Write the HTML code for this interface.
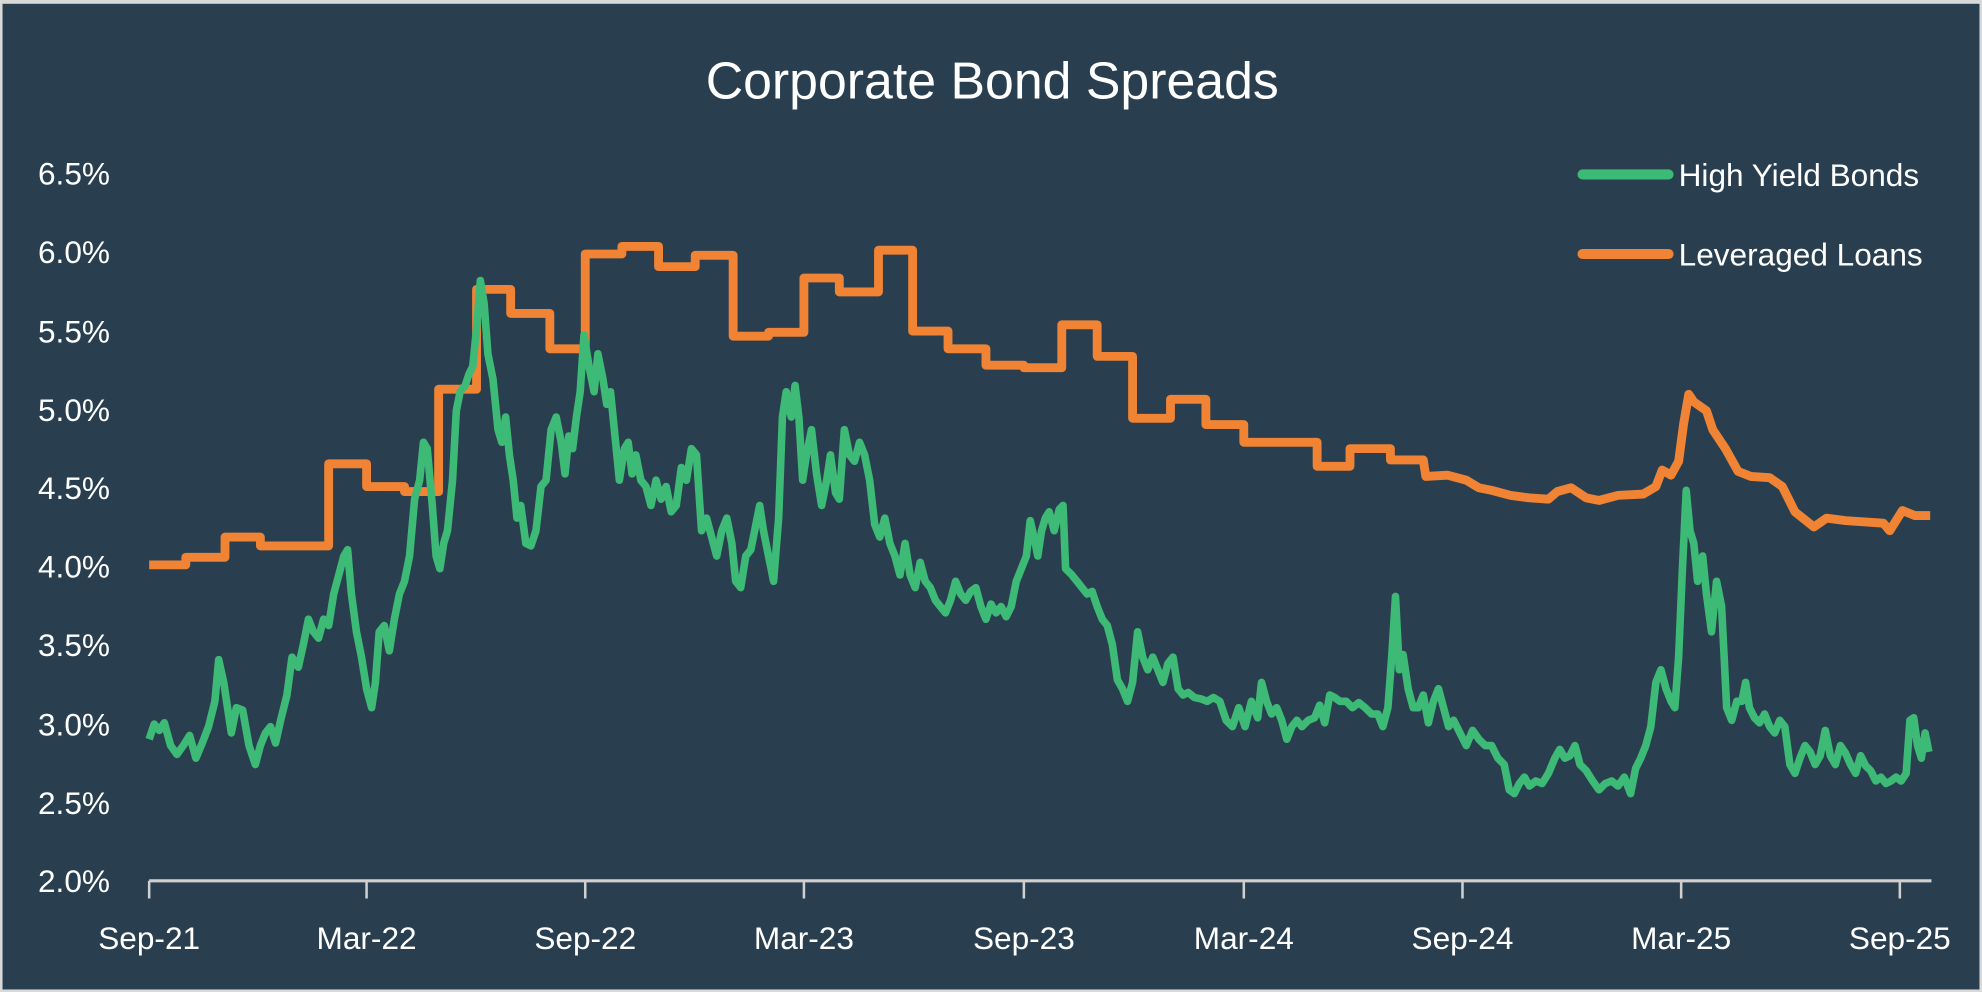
<!DOCTYPE html>
<html><head><style>
html,body{margin:0;padding:0;background:#d9d9d9;}
svg{display:block;}
text{font-family:"Liberation Sans",sans-serif;fill:#fff;}
</style></head><body>
<svg width="1982" height="992" viewBox="0 0 1568 785" preserveAspectRatio="none" xmlns="http://www.w3.org/2000/svg">
<rect x="0" y="0" width="1568" height="785" fill="#d9d9d9"/>
<rect x="2" y="3" width="1564" height="780" fill="#293f50"/>
<text x="785" y="78" font-size="41" text-anchor="middle">Corporate Bond Spreads</text>
<g font-size="25" text-anchor="end">
<text x="87" y="146">6.5%</text>
<text x="87" y="208">6.0%</text>
<text x="87" y="271">5.5%</text>
<text x="87" y="333">5.0%</text>
<text x="87" y="395">4.5%</text>
<text x="87" y="457">4.0%</text>
<text x="87" y="519">3.5%</text>
<text x="87" y="582">3.0%</text>
<text x="87" y="644">2.5%</text>
<text x="87" y="706">2.0%</text>
</g>
<line x1="118" y1="697" x2="1528" y2="697" stroke="#d0d0d0" stroke-width="2.5"/>
<g stroke="#d0d0d0" stroke-width="2">
<line x1="118" y1="697" x2="118" y2="711"/><line x1="290" y1="697" x2="290" y2="711"/><line x1="463" y1="697" x2="463" y2="711"/><line x1="636" y1="697" x2="636" y2="711"/><line x1="810" y1="697" x2="810" y2="711"/><line x1="984" y1="697" x2="984" y2="711"/><line x1="1157" y1="697" x2="1157" y2="711"/><line x1="1330" y1="697" x2="1330" y2="711"/><line x1="1503" y1="697" x2="1503" y2="711"/>
</g>
<g font-size="25" text-anchor="middle">
<text x="118" y="751">Sep-21</text><text x="290" y="751">Mar-22</text><text x="463" y="751">Sep-22</text><text x="636" y="751">Mar-23</text><text x="810" y="751">Sep-23</text><text x="984" y="751">Mar-24</text><text x="1157" y="751">Sep-24</text><text x="1330" y="751">Mar-25</text><text x="1503" y="751">Sep-25</text>
</g>
<polyline fill="none" stroke="#f08434" stroke-width="7" stroke-linejoin="round" points="118,447 147,447 147,441 178,441 178,425 206,425 206,432 260,432 260,367 290,367 290,385 320,385 320,389 347,389 347,308 377,308 377,229 404,229 404,248 435,248 435,276 463,276 463,201 492,201 492,195 521,195 521,211 550,211 550,202 580,202 580,266 608,266 608,263 636,263 636,220 664,220 664,231 695,231 695,198 722,198 722,262 750,262 750,276 780,276 780,289 810,289 810,291 840,291 840,257 868,257 868,282 896,282 896,331 926,331 926,316 954,316 954,336 984,336 984,350 1042,350 1042,369 1068,369 1068,355 1100,355 1100,364 1126,364 1128,377 1145,376 1160,380 1170,386 1180,388 1195,392 1210,394 1225,395 1232,389 1243,386 1255,394 1265,396 1280,392 1300,391 1310,385 1315,372 1322,376 1328,365 1332,335 1336,312 1340,318 1350,325 1355,340 1365,355 1375,373 1385,377 1400,378 1410,385 1420,405 1435,417 1445,410 1460,412 1490,414 1495,420 1505,404 1515,408 1527,408"/>
<polyline fill="none" stroke="#3dba75" stroke-width="6" stroke-linejoin="round" points="118,585 122,573 126,578 130,572 135,590 140,597 145,590 150,582 155,600 160,588 165,575 170,555 173,522 177,540 180,560 183,580 187,560 192,562 197,590 202,605 206,590 210,580 214,575 218,588 222,570 227,550 231,520 236,528 240,510 244,490 248,500 252,505 256,490 260,495 264,470 268,455 272,440 275,435 278,470 282,500 286,520 290,545 294,560 297,540 300,500 304,495 308,515 312,490 316,470 320,460 324,440 328,395 332,380 335,350 338,355 342,400 345,440 348,450 351,430 354,420 358,380 361,325 364,310 368,305 371,296 374,290 377,260 380,222 383,240 386,280 390,300 394,340 397,350 400,330 403,360 406,380 409,410 412,400 416,430 420,432 424,420 428,385 432,380 436,340 440,330 444,350 447,375 450,345 453,355 456,330 459,310 462,265 466,290 470,310 473,280 477,300 480,320 483,310 486,340 490,380 494,355 497,350 500,375 503,360 507,380 511,385 515,400 519,380 523,395 527,385 531,405 535,400 539,370 543,380 547,355 551,360 555,420 559,410 563,425 567,440 571,420 575,410 579,430 582,460 586,465 590,440 594,435 598,415 601,400 604,420 608,440 612,460 616,410 619,330 622,310 626,330 629,305 632,330 635,380 638,360 642,340 646,375 650,400 654,380 657,360 661,390 664,395 668,340 672,360 676,365 680,350 684,360 688,380 692,415 696,425 700,410 704,430 708,440 712,455 716,430 720,455 724,465 728,445 732,460 736,465 740,475 744,480 748,485 752,475 756,460 760,470 764,475 768,468 772,465 776,480 780,490 784,478 788,485 792,480 796,488 800,480 804,460 808,450 812,440 815,412 818,425 821,440 824,420 827,410 830,405 834,420 838,403 841,400 843,450 848,455 852,460 856,465 860,470 864,468 868,480 872,490 876,495 880,510 884,538 888,545 892,555 896,540 900,500 904,520 908,530 912,520 916,530 920,540 924,525 928,520 932,545 936,550 940,548 945,552 950,553 955,555 960,552 965,555 970,570 975,575 980,560 985,575 990,555 995,568 998,540 1002,555 1006,565 1010,560 1014,570 1018,585 1022,575 1026,570 1030,575 1035,570 1040,568 1044,558 1048,572 1052,550 1056,552 1060,555 1065,555 1070,560 1075,556 1080,560 1085,565 1090,565 1094,575 1098,560 1101,520 1104,472 1107,530 1110,518 1114,545 1118,560 1122,560 1126,550 1130,572 1134,555 1138,545 1142,560 1146,575 1150,570 1155,580 1160,590 1165,578 1170,585 1175,590 1180,590 1185,600 1190,605 1194,625 1198,628 1202,620 1206,615 1210,622 1215,618 1220,620 1225,612 1230,600 1234,593 1238,600 1242,598 1246,590 1250,605 1255,610 1260,618 1265,625 1270,620 1275,618 1280,622 1285,615 1290,628 1294,608 1298,600 1302,590 1306,575 1310,540 1314,530 1318,545 1322,555 1325,560 1328,520 1331,450 1334,388 1337,420 1340,430 1343,460 1347,440 1350,470 1354,500 1358,460 1362,480 1366,560 1370,570 1374,555 1378,555 1381,540 1384,560 1388,568 1392,572 1396,565 1400,575 1404,580 1408,570 1412,575 1416,605 1420,612 1424,600 1428,590 1432,595 1436,605 1440,598 1444,578 1448,598 1452,605 1456,590 1460,596 1464,605 1468,612 1472,598 1476,606 1480,610 1484,618 1488,615 1492,620 1496,618 1500,615 1504,618 1508,612 1511,570 1514,568 1517,590 1520,600 1523,580 1526,595"/>
<line x1="1252" y1="138" x2="1320" y2="138" stroke="#3dba75" stroke-width="8" stroke-linecap="round"/>
<line x1="1252" y1="201" x2="1320" y2="201" stroke="#f08434" stroke-width="8" stroke-linecap="round"/>
<g font-size="25">
<text x="1328" y="147">High Yield Bonds</text>
<text x="1328" y="210">Leveraged Loans</text>
</g>
</svg>
</body></html>
